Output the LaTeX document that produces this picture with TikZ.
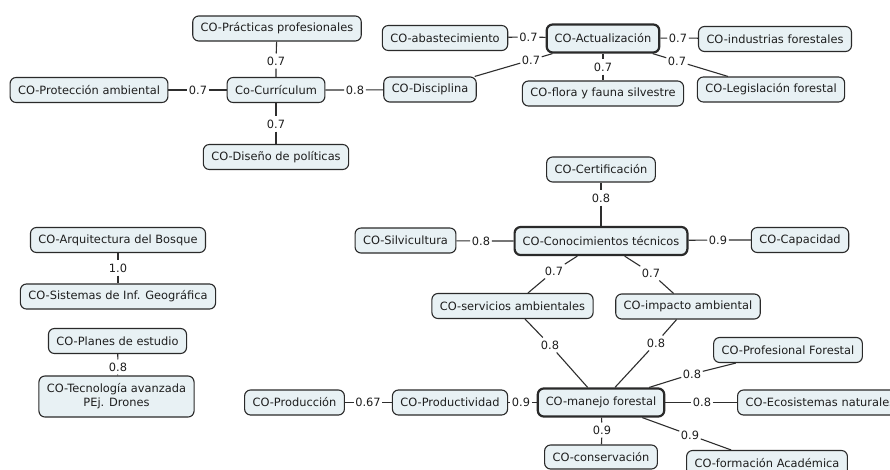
\documentclass[tikz,border=0pt]{standalone}
\usepackage{fontspec}
\setmainfont{DejaVu Sans}
\definecolor{boxfill}{HTML}{E8F1F4}
\definecolor{boxline}{HTML}{2A2A2A}
\definecolor{linkcol}{HTML}{2E2E2E}
\definecolor{txt}{HTML}{1E1E1E}
\begin{document}
\begin{tikzpicture}[x=1pt,y=-1pt,
  concept/.style={draw=boxline, fill=boxfill, rounded corners=6pt, line width=1.1pt,
    inner xsep=8pt, minimum height=25pt, text=txt, align=center,
    font=\fontsize{11.4}{13.8}\selectfont},
  hub/.style={concept, line width=2.2pt, minimum height=28pt},
  weight/.style={inner xsep=1.5pt, inner ysep=3pt, text=txt,
    font=\fontsize{11.4}{13.8}\selectfont},
  link/.style={draw=linkcol, line width=1.1pt}]
\useasboundingbox (0,0) rectangle (890,469);
\clip (0,0) rectangle (890,469);
\fill[white] (0,0) rectangle (890,469);

% --- curriculum cluster ---
\node[concept] (prac) at (277,28.5) {CO-Prácticas profesionales};
\node[concept] (prot) at (89,90) {CO-Protección ambiental};
\node[concept] (curr) at (276,90) {Co-Currículum};
\node[concept] (dise) at (276,157) {CO-Diseño de políticas};
\node[concept] (disc) at (430,89.5) {CO-Disciplina};

% --- update cluster ---
\node[concept] (abas) at (445,38) {CO-abastecimiento};
\node[hub]     (actu) at (603,38.5) {CO-Actualización};
\node[concept] (indu) at (775,39) {CO-industrias forestales};
\node[concept] (flor) at (603,93.5) {CO-flora y fauna silvestre};
\node[concept] (legi) at (771,89.5) {CO-Legislación forestal};

% --- standalone pairs ---
\node[concept] (arqu) at (118,240) {CO-Arquitectura del Bosque};
\node[concept] (sist) at (118,296.5) {CO-Sistemas de Inf. Geográfica};
\node[concept] (plan) at (117.5,341) {CO-Planes de estudio};
\node[concept, minimum height=41pt] (tecn) at (116.5,396.5) {CO-Tecnología avanzada\\PEj. Drones};

% --- technical knowledge cluster ---
\node[concept] (cert) at (601,169.5) {CO-Certificación};
\node[hub]     (cono) at (601,241) {CO-Conocimientos técnicos};
\node[concept] (silv) at (405.5,240.5) {CO-Silvicultura};
\node[concept] (capa) at (800,240) {CO-Capacidad};
\node[concept] (serv) at (512.5,306) {CO-servicios ambientales};
\node[concept] (impa) at (688,306.5) {CO-impacto ambiental};

% --- forest management cluster ---
\node[concept] (prod) at (294.5,402.5) {CO-Producción};
\node[concept] (prdv) at (450,402.5) {CO-Productividad};
\node[hub]     (mane) at (601,402.5) {CO-manejo forestal};
\node[concept] (prof) at (788,350) {CO-Profesional Forestal};
\node[concept, anchor=west] (ecos) at (737,402.5) {CO-Ecosistemas naturales};
\node[concept, minimum height=24pt] (cons) at (601,457) {CO-conservación};
\node[concept] (form) at (767,463) {CO-formación Académica};

% --- link weights ---
\node[weight] (w1)  at (276,61)  {0.7};
\node[weight] (w2)  at (276,124) {0.7};
\node[weight] (w3)  at (198,90)  {0.7};
\node[weight] (w4)  at (355,90)  {0.8};
\node[weight] (w5)  at (528.5,37) {0.7};
\node[weight] (w6)  at (678,38)  {0.7};
\node[weight] (w7)  at (531,60)  {0.7};
\node[weight] (w8)  at (603,67)  {0.7};
\node[weight] (w9)  at (677,61)  {0.7};
\node[weight] (w10) at (118,268) {1.0};
\node[weight] (w11) at (118,367) {0.8};
\node[weight] (w12) at (601,198) {0.8};
\node[weight] (w13) at (481,241) {0.8};
\node[weight] (w14) at (718,240) {0.9};
\node[weight] (w15) at (554,271) {0.7};
\node[weight] (w16) at (651,273) {0.7};
\node[weight] (w17) at (550,345) {0.8};
\node[weight] (w18) at (656,343) {0.8};
\node[weight] (w19) at (692,374) {0.8};
\node[weight] (w20) at (702,402.5) {0.8};
\node[weight] (w21) at (602,430) {0.9};
\node[weight] (w22) at (690,435) {0.9};
\node[weight] (w23) at (368,402.5) {0.67};
\node[weight] (w24) at (521,402.5) {0.9};

% --- connectors ---
\draw[link] (prac) -- (w1) -- (curr);
\draw[link] (curr) -- (w2) -- (dise);
\draw[link] (prot) -- (w3) -- (curr);
\draw[link] (curr) -- (w4) -- (disc);
\draw[link] (abas) -- (w5) -- (actu);
\draw[link] (actu) -- (w6) -- (indu);
\draw[link] (disc) -- (w7) -- (actu);
\draw[link] (actu) -- (w8) -- (flor);
\draw[link] (actu) -- (w9) -- (legi);
\draw[link] (arqu) -- (w10) -- (sist);
\draw[link] (plan) -- (w11) -- (tecn);
\draw[link] (cert) -- (w12) -- (cono);
\draw[link] (silv) -- (w13) -- (cono);
\draw[link] (cono) -- (w14) -- (capa);
\draw[link] (cono) -- (w15) -- (serv);
\draw[link] (cono) -- (w16) -- (impa);
\draw[link] (serv) -- (w17) -- (mane);
\draw[link] (impa) -- (w18) -- (mane);
\draw[link] (mane) -- (w19) -- (prof);
\draw[link] (mane) -- (w20) -- (ecos);
\draw[link] (mane) -- (w21) -- (cons);
\draw[link] (mane) -- (w22) -- (form);
\draw[link] (prod) -- (w23) -- (prdv);
\draw[link] (prdv) -- (w24) -- (mane);
\end{tikzpicture}
\end{document}
